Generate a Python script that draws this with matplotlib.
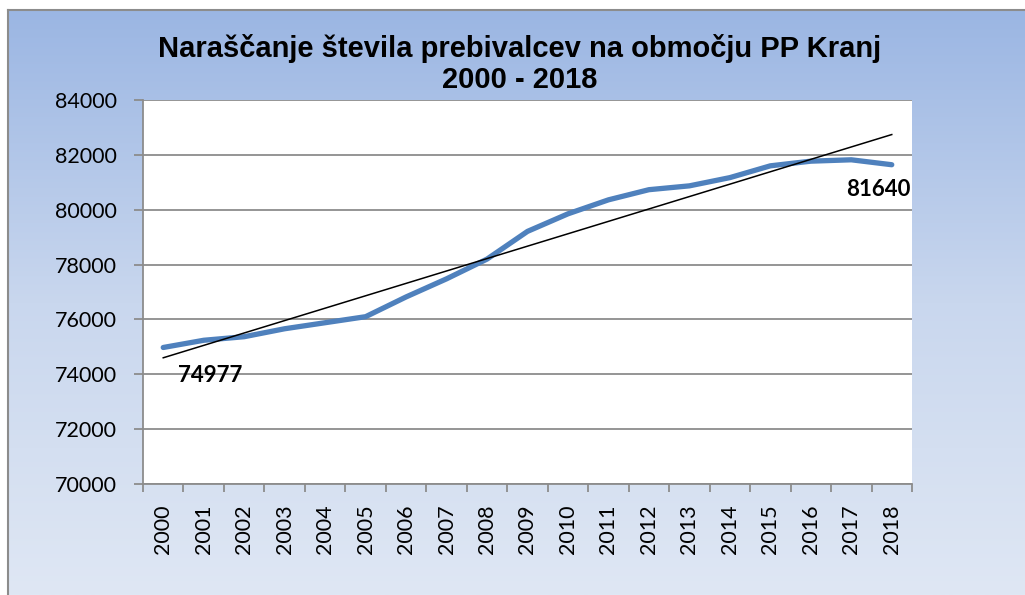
import numpy as np
import matplotlib
matplotlib.use('Agg')
import matplotlib.pyplot as plt
from matplotlib.colors import LinearSegmentedColormap

# data
leta = [2000, 2001, 2002, 2003, 2004, 2005, 2006, 2007, 2008, 2009,
        2010, 2011, 2012, 2013, 2014, 2015, 2016, 2017, 2018]
prebivalci = [74977, 75240, 75370, 75660, 75880, 76100, 76820, 77480, 78200, 79210,
              79850, 80360, 80730, 80870, 81170, 81600, 81770, 81820, 81640]
y_ticks = [70000, 72000, 74000, 76000, 78000, 80000, 82000, 84000]
naslov = 'Naraščanje števila prebivalcev na območju PP Kranj\n2000 - 2018'

W, H = 1025, 595
fig = plt.figure(figsize=(W / 100, H / 100), dpi=100)

# background with gradient and border
bg = fig.add_axes([8 / W, 0, 1 - 8 / W, 1 - 10 / H])
grad = LinearSegmentedColormap.from_list('g', ['#DFE7F4', '#C9D7EE', '#9BB6E3'])
bg.imshow(np.linspace(0, 1, 256).reshape(-1, 1), cmap=grad, aspect='auto',
          origin='lower', extent=[0, 1, 0, 1])
bg.set_xticks([])
bg.set_yticks([])
for s in ['right', 'bottom']:
    bg.spines[s].set_visible(False)
for s in ['left', 'top']:
    bg.spines[s].set_color('#8C8C8C')
    bg.spines[s].set_linewidth(1.5)

fig.text(520 / W, 1 - 64 / H, naslov, ha='center', va='center',
         fontsize=21, fontweight='bold', family='Liberation Sans',
         linespacing=1.1)

ax = fig.add_axes([143 / W, (H - 484) / H, (912 - 143) / W, (484 - 100) / H])
ax.set_facecolor('white')
x = np.arange(len(leta))
ax.plot(x, prebivalci, color='#4F81BD', lw=3.8, solid_capstyle='round',
        solid_joinstyle='round', zorder=3)

# linear trend
a, b = np.polyfit(x, prebivalci, 1)
ax.plot(x, a * x + b, color='black', lw=1.1, zorder=4)

ax.annotate(str(prebivalci[0]), (x[0], prebivalci[0]), xytext=(34, -20),
            textcoords='offset points', ha='center', va='center',
            fontsize=16, fontweight='bold', family='Lato')
ax.annotate(str(prebivalci[-1]), (x[-1], prebivalci[-1]), xytext=(-10, -18),
            textcoords='offset points', ha='center', va='center',
            fontsize=16, fontweight='bold', family='Lato')

ax.set_xlim(-0.5, len(leta) - 0.5)
ax.set_ylim(y_ticks[0], y_ticks[-1])
ax.set_yticks(y_ticks)
ax.set_yticklabels([str(v) for v in y_ticks], family='Lato', fontsize=15.5)
ax.yaxis.grid(True, color='#8C8C8C', lw=1.3)
ax.set_axisbelow(True)

ax.set_xticks(x)
ax.set_xticklabels([str(l) for l in leta], rotation=90, family='Lato', fontsize=15.5)
ax.set_xticks(np.arange(-0.5, len(leta)), minor=True)
ax.tick_params(axis='x', which='major', length=0, pad=15)
ax.tick_params(axis='x', which='minor', length=6, color='#8C8C8C', width=1.3)
ax.tick_params(axis='y', length=6.5, color='#8C8C8C', width=1.3, pad=12)

for s in ['top', 'right']:
    ax.spines[s].set_visible(False)
for s in ['left', 'bottom']:
    ax.spines[s].set_color('#8C8C8C')
    ax.spines[s].set_linewidth(1.3)

fig.savefig('out.png', dpi=100)
